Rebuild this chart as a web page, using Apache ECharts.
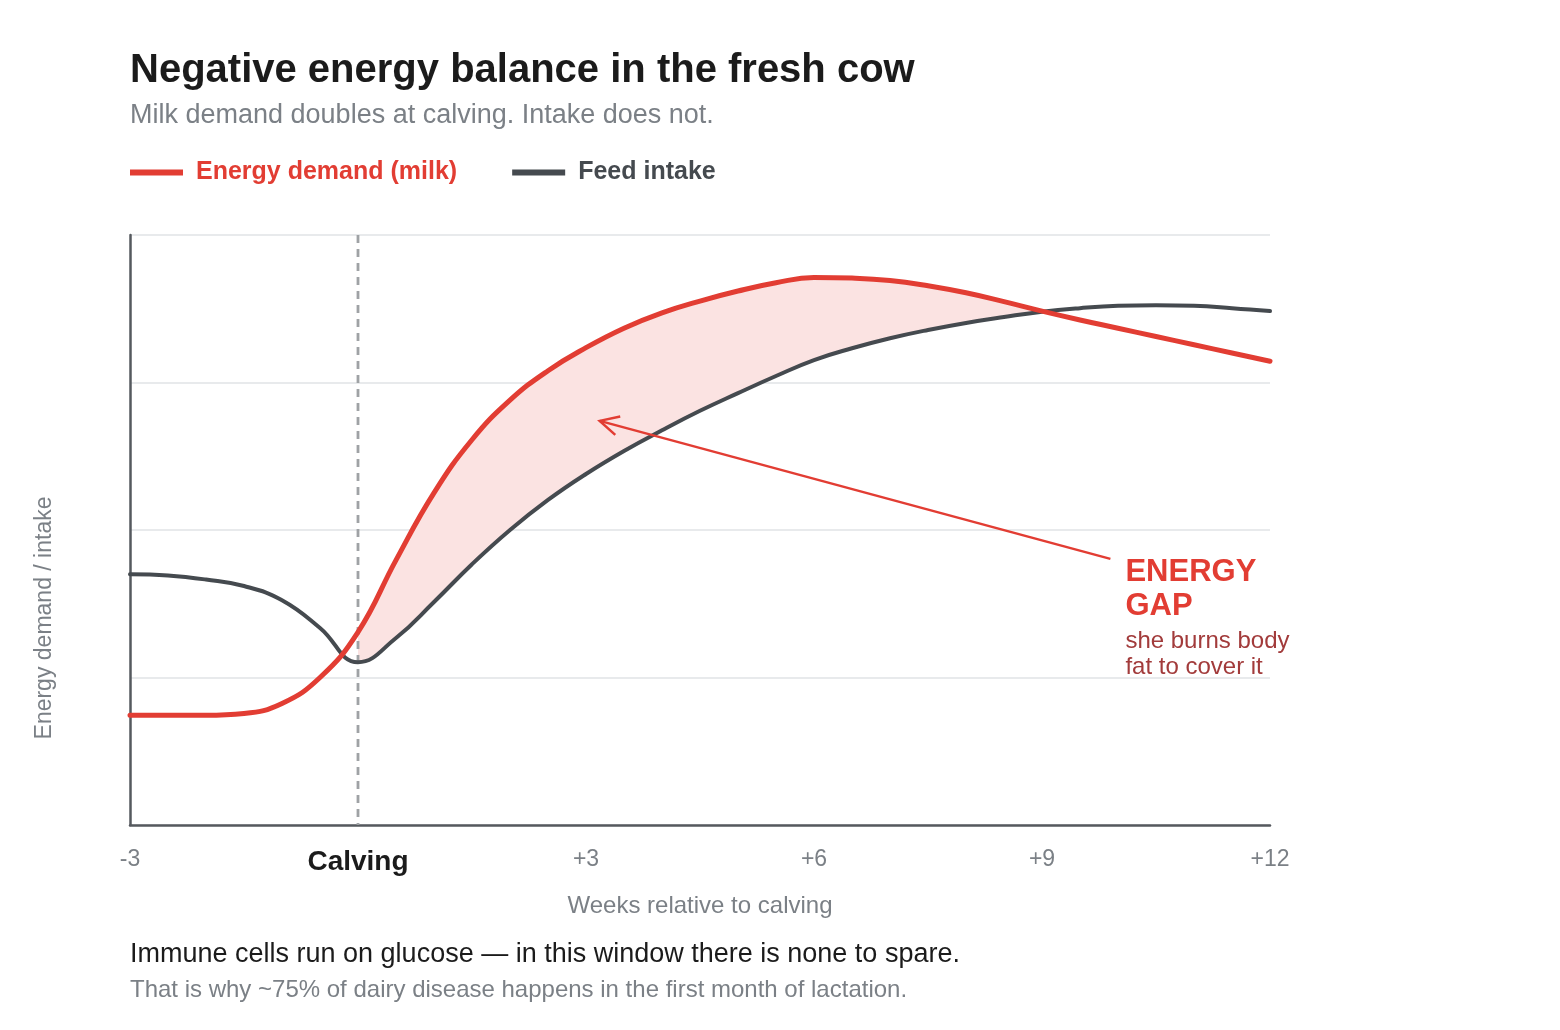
<!DOCTYPE html>
<html>
<head>
<meta charset="utf-8">
<title>Negative energy balance in the fresh cow</title>
<script src="https://cdn.jsdelivr.net/npm/echarts@6/dist/echarts.min.js"></script>
<style>
  html, body { margin: 0; padding: 0; background: #fff; }
  #chart { width: 1560px; height: 1030px; }
</style>
</head>
<body>
<div id="chart"></div>
<script>
// weeks relative to calving
const weeks = [-3, -2.5, -2, -1.5, -1, -0.5, 0, 0.5, 1, 1.5, 2, 2.5, 3, 3.5, 4, 4.5,
               5, 5.5, 6, 6.5, 7, 7.5, 8, 8.5, 9, 9.5, 10, 10.5, 11, 11.5, 12];
// energy demand of milk production (relative units, 0-100)
const demand = [18.6, 18.6, 18.6, 18.9, 20.6, 25.0, 32.7, 44.9, 56.3, 65.3, 72.0, 77.0, 80.9, 84.2, 86.8, 88.8,
                90.5, 91.9, 92.8, 92.7, 92.3, 91.4, 90.2, 88.7, 87.1, 85.6, 84.2, 82.8, 81.4, 80.0, 78.6];
// dry matter intake (same units)
const intake = [42.5, 42.3, 41.6, 40.5, 38.1, 33.4, 27.6, 31.7, 37.8, 44.2, 50.0, 55.1, 59.5, 63.4, 66.9, 70.2,
                73.2, 76.1, 78.8, 80.8, 82.5, 83.9, 85.1, 86.1, 87.0, 87.6, 88.0, 88.1, 88.0, 87.6, 87.1];
const tickLabels = { '-3': '-3', '0': 'Calving', '3': '+3', '6': '+6', '9': '+9', '12': '+12' };

// annotation arrow, in data units (tail -> head)
const arrowTail = [9.9, 45.1];
const arrowHead = [3.18, 68.5];
const calvingWeek = 0;

const RED = '#e23d33';
const DARK = '#454a4f';
const GREY = '#7b8086';
const FONT = '"Liberation Sans", Arial, sans-serif';
const SMOOTH = 0.45;

const gap = demand.map((d, i) => +(d - intake[i]).toFixed(2));
// the gap opens at calving and closes where the curves cross again
let gapEnd = weeks[weeks.length - 1];
for (let i = 1; i < weeks.length; i++) {
  if (weeks[i] > 0 && gap[i - 1] > 0 && gap[i] <= 0) {
    gapEnd = weeks[i - 1] + (weeks[i] - weeks[i - 1]) * gap[i - 1] / (gap[i - 1] - gap[i]);
    break;
  }
}
const pair = arr => weeks.map((w, i) => [w, arr[i]]);
// value first so the stack runs on y, not on the week
const pairYX = arr => weeks.map((w, i) => [arr[i], w]);

function renderCalving(params, api) {
  const top = api.coord([api.value(0), 100]);
  const bottom = api.coord([api.value(0), 0]);
  return {
    type: 'line',
    shape: { x1: top[0], y1: top[1], x2: bottom[0], y2: bottom[1] },
    style: { stroke: '#9fa2a5', lineWidth: 2.8, lineDash: [8, 6] }
  };
}

function renderNote(params, api) {
  const tail = api.coord([api.value(0), api.value(1)]);
  const head = api.coord([api.value(2), api.value(3)]);
  const a = Math.atan2(tail[1] - head[1], tail[0] - head[0]);
  const wing = s => [head[0] + 21 * Math.cos(a + s), head[1] + 21 * Math.sin(a + s)];
  return {
    type: 'group',
    children: [
      { type: 'line', shape: { x1: tail[0], y1: tail[1], x2: head[0], y2: head[1] },
        style: { stroke: RED, lineWidth: 2.5 } },
      { type: 'polyline', shape: { points: [wing(-0.47), head, wing(0.47)] },
        style: { stroke: RED, lineWidth: 2.5, fill: null } },
      { type: 'text', x: tail[0] + 15, y: tail[1] + 31,
        style: { text: 'ENERGY\nGAP', fill: RED, fontSize: 31, fontWeight: 'bold', fontFamily: FONT,
                 lineHeight: 34, align: 'left', verticalAlign: 'middle' } },
      { type: 'text', x: tail[0] + 15, y: tail[1] + 95,
        style: { text: 'she burns body\nfat to cover it', fill: '#a23b3b', fontSize: 24, fontFamily: FONT,
                 lineHeight: 26, align: 'left', verticalAlign: 'middle' } }
    ]
  };
}

const chart = echarts.init(document.getElementById('chart'));
chart.setOption({
  animation: false,
  textStyle: { fontFamily: FONT },
  title: {
    left: 130, top: 51, padding: 0, itemGap: 11,
    text: 'Negative energy balance in the fresh cow',
    subtext: 'Milk demand doubles at calving. Intake does not.',
    textStyle: { fontSize: 40, fontWeight: 'bold', color: '#1b1b1b', fontFamily: FONT },
    subtextStyle: { fontSize: 27, color: GREY, fontFamily: FONT }
  },
  legend: {
    left: 130, top: 160, padding: 0, itemGap: 55, itemWidth: 53, itemHeight: 6, icon: 'rect',
    selectedMode: false,
    textStyle: { fontSize: 25, fontWeight: 'bold', padding: [0, 0, 0, 8] },
    data: [
      { name: 'Energy demand (milk)', textStyle: { color: RED } },
      { name: 'Feed intake', textStyle: { color: DARK } }
    ]
  },
  grid: { left: 130, right: 290, top: 235, bottom: 205 },
  xAxis: {
    type: 'value', min: -3, max: 12, interval: 3,
    name: 'Weeks relative to calving', nameLocation: 'middle', nameGap: 69,
    nameTextStyle: { fontSize: 24, color: GREY },
    axisLine: { onZero: false, lineStyle: { color: '#55595e', width: 2.5 } },
    axisTick: { show: false },
    splitLine: { show: false },
    axisLabel: {
      margin: 23, fontSize: 23, color: GREY,
      formatter: v => tickLabels[String(v)] === 'Calving' ? '{b|Calving}' : tickLabels[String(v)],
      rich: { b: { fontSize: 28, fontWeight: 'bold', color: '#1b1b1b', fontFamily: FONT } }
    }
  },
  yAxis: {
    type: 'value', min: 0, max: 100, interval: 25,
    axisLine: { show: true, onZero: false, lineStyle: { color: '#55595e', width: 2.5 } },
    axisTick: { show: false },
    axisLabel: { show: false },
    splitLine: { lineStyle: { color: '#e1e3e6', width: 1.5 } }
  },
  visualMap: {
    show: false, type: 'piecewise', seriesIndex: 1, dimension: 1,
    pieces: [
      { lt: 0, color: 'rgba(255,255,255,0)' },
      { gte: 0, lt: gapEnd, color: '#fbe3e2' },
      { gte: gapEnd, color: 'rgba(255,255,255,0)' }
    ]
  },
  graphic: [
    { type: 'text', x: 45, y: 618, rotation: Math.PI / 2,
      style: { text: 'Energy demand / intake', fill: GREY, fontSize: 23, fontFamily: FONT,
               align: 'center', verticalAlign: 'middle' } },
    { type: 'text', x: 130, y: 955,
      style: { text: 'Immune cells run on glucose \u2014 in this window there is none to spare.',
               fill: '#1b1b1b', fontSize: 27, fontFamily: FONT, verticalAlign: 'middle' } },
    { type: 'text', x: 130, y: 990,
      style: { text: 'That is why ~75% of dairy disease happens in the first month of lactation.',
               fill: GREY, fontSize: 24, fontFamily: FONT, verticalAlign: 'middle' } }
  ],
  series: [
    {
      name: 'base', type: 'line', data: pairYX(intake), encode: { x: 1, y: 0 },
      stack: 'gap', stackStrategy: 'all',
      smooth: SMOOTH, symbol: 'none', silent: true, z: 1,
      lineStyle: { opacity: 0, width: 0 }
    },
    {
      name: 'gap', type: 'line', data: pairYX(gap), encode: { x: 1, y: 0 },
      stack: 'gap', stackStrategy: 'all',
      smooth: SMOOTH, symbol: 'none', silent: true, z: 1,
      lineStyle: { opacity: 0, width: 0 },
      areaStyle: { opacity: 1 }
    },
    {
      name: 'calving', type: 'custom', renderItem: renderCalving, silent: true, z: 2,
      encode: { x: 0 },
      data: [[calvingWeek]]
    },
    {
      name: 'Feed intake', type: 'line', data: pair(intake), smooth: SMOOTH,
      symbol: 'none', color: DARK, lineStyle: { width: 4, color: DARK, cap: 'round' }, z: 3
    },
    {
      name: 'Energy demand (milk)', type: 'line', data: pair(demand), smooth: SMOOTH,
      symbol: 'none', color: RED, lineStyle: { width: 5, color: RED, cap: 'round' }, z: 4
    },
    {
      type: 'custom', renderItem: renderNote, silent: true, z: 5,
      encode: { x: [0, 2], y: [1, 3] },
      data: [[arrowTail[0], arrowTail[1], arrowHead[0], arrowHead[1]]]
    }
  ]
});
</script>
</body>
</html>
